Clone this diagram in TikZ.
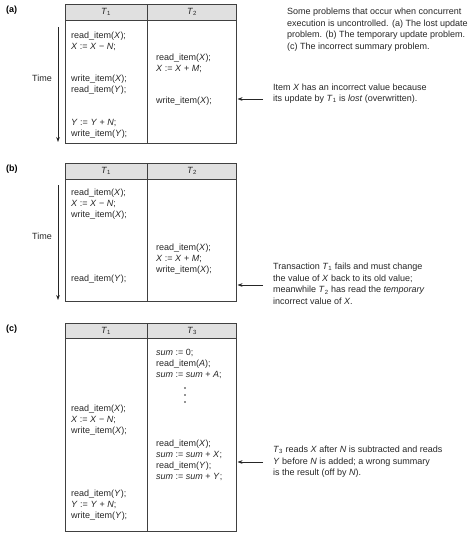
\documentclass[tikz,border=0pt]{standalone}
\usepackage{fontspec}
\setmainfont{Liberation Sans}
\usetikzlibrary{arrows.meta,positioning}
\newcommand{\var}[1]{\textit{#1}}
\newcommand{\Tn}[1]{\textit{T}\textsubscript{#1}}

\begin{document}
\begin{tikzpicture}[x=1pt, y=-1pt,
    stmt/.style={anchor=north west, inner sep=0pt, align=left, font=\fontsize{9}{11}\selectfont, text=black!85},
    note/.style={anchor=north west, inner sep=0pt, align=left, font=\fontsize{9}{11.6}\selectfont, text=black!85},
    head/.style={inner sep=0pt, font=\fontsize{9}{11}\selectfont, text=black!85},
    tag/.style={anchor=west, inner sep=0pt, font=\fontsize{9}{11}\selectfont\bfseries},
    arrow/.style={-{Stealth[length=5pt,width=3.6pt]}, line width=0.6pt, black!85},
    frame/.style={draw=black!75, line width=0.6pt}
]
\useasboundingbox (0,0) rectangle (473,539);

% the three schedules
\foreach \p/\ya/\yb/\yc/\tb in {a/4/20/143/2, b/163/179/301/2, c/323/338/531/3} {
    \fill[black!12] (65,\ya) rectangle (236,\yb);
    \draw[frame] (65,\ya) rectangle (236,\yc);
    \draw[frame] (65,\yb) -- (236,\yb);
    \draw[frame] (147.5,\ya) -- (147.5,\yc);
    \node[head] (\p h1) at (106,{(\ya+\yb)/2}) {\Tn{1}};
    \node[head] (\p h2) at (192,{(\ya+\yb)/2}) {\Tn{\tb}};
    \node[tag] (\p tag) at (6,\ya+6) {(\p)};
}

% time axes
\foreach \p/\ya/\yb/\ym in {a/27/142/78, b/185/300/236} {
    \coordinate (\p t0) at (58,\ya);
    \coordinate (\p t1) at (58,\yb);
    \draw[arrow] (\p t0) -- (\p t1);
    \node[head] (\p time) at (42,\ym) {Time};
}

\node[note] (caption) at (287,8) {Some problems that occur when concurrent\\
execution is uncontrolled. (a) The lost update\\
problem. (b) The temporary update problem.\\
(c) The incorrect summary problem.};

% (a) lost update
\node[stmt] (a1) at (71,31.5) {read\_item(\var{X});\\ \var{X} := \var{X} − \var{N};};
\node[stmt] (a2) at (71,74.5) {write\_item(\var{X});\\ read\_item(\var{Y});};
\node[stmt] (a3) at (71,119.5) {\var{Y} := \var{Y} + \var{N};\\ write\_item(\var{Y});};
\node[stmt] (a4) at (156,53.5) {read\_item(\var{X});\\ \var{X} := \var{X} + \var{M};};
\node[stmt] (a5) at (156,96.5) {write\_item(\var{X});};
\node[note] (anote) at (273,83.5) {Item \var{X} has an incorrect value because\\
its update by \Tn{1} is \var{lost} (overwritten).};
\coordinate (aarr0) at (263,99);
\coordinate (aarr1) at (237.5,99);
\draw[arrow] (aarr0) -- (aarr1);

% (b) temporary update
\node[stmt] (b1) at (71,188.5) {read\_item(\var{X});\\ \var{X} := \var{X} − \var{N};\\ write\_item(\var{X});};
\node[stmt] (b2) at (71,274.5) {read\_item(\var{Y});};
\node[stmt] (b3) at (156,243.5) {read\_item(\var{X});\\ \var{X} := \var{X} + \var{M};\\ write\_item(\var{X});};
\node[note] (bnote) at (273,263) {Transaction \Tn{1} fails and must change\\
the value of \var{X} back to its old value;\\
meanwhile \Tn{2} has read the \var{temporary}\\
incorrect value of \var{X}.};
\coordinate (barr0) at (263,285);
\coordinate (barr1) at (237.5,285);
\draw[arrow] (barr0) -- (barr1);

% (c) incorrect summary
\node[stmt] (c1) at (156,349.5) {\var{sum} := 0;\\ read\_item(\var{A});\\ \var{sum} := \var{sum} + \var{A};};
\foreach \y in {388,395,402} \fill[black!85] (185,\y) circle (0.9pt);
\node[stmt] (c2) at (71,404.5) {read\_item(\var{X});\\ \var{X} := \var{X} − \var{N};\\ write\_item(\var{X});};
\node[stmt] (c3) at (156,439.5) {read\_item(\var{X});\\ \var{sum} := \var{sum} + \var{X};\\ read\_item(\var{Y});\\ \var{sum} := \var{sum} + \var{Y};};
\node[stmt] (c4) at (71,489.5) {read\_item(\var{Y});\\ \var{Y} := \var{Y} + \var{N};\\ write\_item(\var{Y});};
\node[note] (cnote) at (273,446) {\Tn{3} reads \var{X} after \var{N} is subtracted and reads\\
\var{Y} before \var{N} is added; a wrong summary\\
is the result (off by \var{N}).};
\coordinate (carr0) at (263,462);
\coordinate (carr1) at (237.5,462);
\draw[arrow] (carr0) -- (carr1);
\end{tikzpicture}
\end{document}
